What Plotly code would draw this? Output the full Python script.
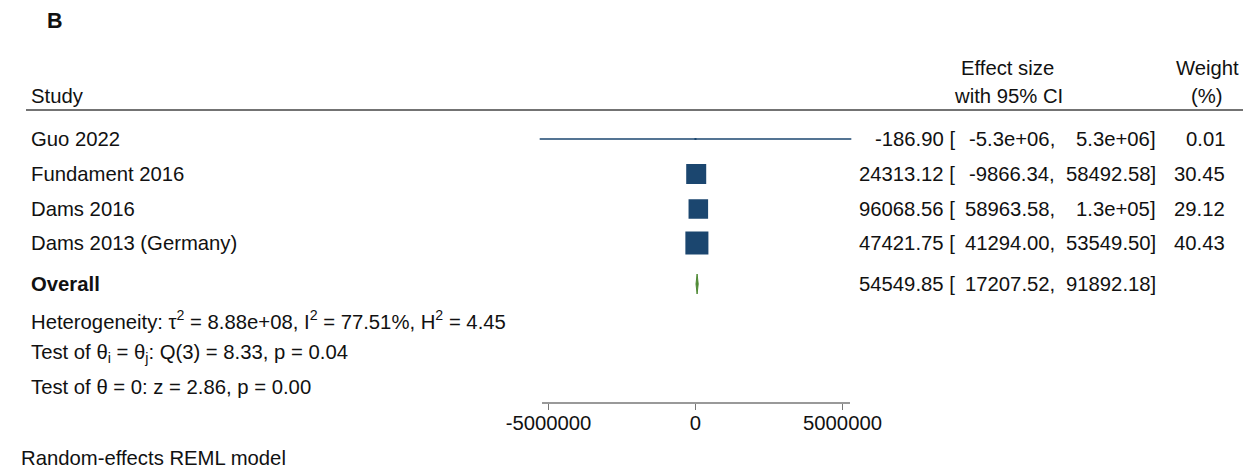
import plotly.graph_objects as go
import math

# ---- data ----
studies = ["Guo 2022", "Fundament 2016", "Dams 2016", "Dams 2013 (Germany)"]
effect = [-186.90, 24313.12, 96068.56, 47421.75]
ci_low = [-5.3e6, -9866.34, 58963.58, 41294.00]
ci_high = [5.3e6, 58492.58, 1.3e5, 53549.50]
weights = [0.01, 30.45, 29.12, 40.43]
overall = {"es": 54549.85, "lo": 17207.52, "hi": 91892.18}
tick_vals = [-5000000, 0, 5000000]
tick_text = ["-5000000", "0", "5000000"]
stats_lines = [
    "Heterogeneity: τ<sup>2</sup> = 8.88e+08, I<sup>2</sup> = 77.51%, H<sup>2</sup> = 4.45",
    "Test of θ<sub>i</sub> = θ<sub>j</sub>: Q(3) = 8.33, p = 0.04",
    "Test of θ = 0: z = 2.86, p = 0.00",
]

# ---- layout constants (screen pixels) ----
W, H = 1251, 470
OFF = 8  # page body margin
FONT = "Liberation Sans, Arial, Helvetica, sans-serif"
FS = 20.3
NAVY = "#1b466f"
GREEN = "#4f8a35"
row_y = [139, 174, 209, 243]
overall_y = 284
stats_y = [320, 353, 387]
axis_y = 403
x0_px = 695.5
px_per_unit = 147.0 / 5e6
xr = [-5.4e6, 5.4e6]
col_es, col_lo, col_hi, col_w = 957, 1057, 1158, 1227


def px(x):
    return (x - OFF) / W


def py(y):
    return (H - (y - OFF)) / H


dom = [px(x0_px + xr[0] * px_per_unit), px(x0_px + xr[1] * px_per_unit)]
ydom = [py(axis_y), 1.0]

NB = "\u00a0"


def num(v):
    return ("%.1e" % v) if abs(v) >= 1e5 else ("%.2f" % v)


fig = go.Figure()

# CI lines
for i in range(len(studies)):
    fig.add_trace(go.Scatter(
        x=[ci_low[i], ci_high[i]], y=[row_y[i], row_y[i]], mode="lines",
        line=dict(color=NAVY, width=1.3), hoverinfo="skip", showlegend=False))

# weight squares
sizes = [max(2.0, 3.624 * math.sqrt(w)) for w in weights]
fig.add_trace(go.Scatter(
    x=effect, y=row_y, mode="markers",
    marker=dict(symbol="square", size=sizes, color=NAVY, opacity=1, line=dict(width=0)),
    hoverinfo="skip", showlegend=False))

# overall diamond
fig.add_trace(go.Scatter(
    x=[overall["lo"], overall["es"], overall["hi"], overall["es"], overall["lo"]],
    y=[overall_y, overall_y - 10, overall_y, overall_y + 10, overall_y],
    mode="lines", fill="toself", fillcolor=GREEN,
    line=dict(color=GREEN, width=1), hoverinfo="skip", showlegend=False))

ann = []


def text(x, y, t, anchor="left", size=FS, bold=False):
    ann.append(dict(x=px(x), y=py(y), xref="paper", yref="paper",
                    text=("<b>%s</b>" % t) if bold else t, showarrow=False,
                    xanchor=anchor, yanchor="middle",
                    font=dict(family=FONT, size=size, color="#111111")))


def ci_cols(y, es, lo, hi):
    text(col_es, y, "%.2f" % es + NB + "[", anchor="right")
    text(col_lo, y, num(lo) + ",", anchor="right")
    text(col_hi, y, num(hi) + "]", anchor="right")


text(45, 21, "B", bold=True, size=21.5)
text(29, 96, "Study")
text(1007, 68, "Effect size", anchor="center")
text(1008, 96, "with 95% CI", anchor="center")
text(1207, 68, "Weight", anchor="center")
text(1207, 96, "(%)", anchor="center")

for i, s in enumerate(studies):
    text(29, row_y[i], s)
    ci_cols(row_y[i], effect[i], ci_low[i], ci_high[i])
    text(col_w, row_y[i], "%.2f" % weights[i], anchor="right")

text(29, overall_y, "Overall", bold=True)
ci_cols(overall_y, overall["es"], overall["lo"], overall["hi"])

for y, s in zip(stats_y, stats_lines):
    text(29, y, s)

text(19, 458, "Random-effects REML model")

shapes = [
    dict(type="line", xref="paper", yref="paper", x0=px(26), x1=px(1246), y0=py(110), y1=py(110),
         line=dict(color="#444444", width=1.5)),
    dict(type="line", xref="paper", yref="paper", x0=px(542), x1=px(850), y0=py(axis_y), y1=py(axis_y),
         line=dict(color="#777777", width=1.4)),
]

fig.update_layout(
    width=W, height=H, margin=dict(l=0, r=0, t=0, b=0, pad=0, autoexpand=False),
    paper_bgcolor="white", plot_bgcolor="white", hovermode=False,
    annotations=ann, shapes=shapes,
    xaxis=dict(domain=dom, range=xr, showgrid=False, zeroline=False, showline=False,
               tickmode="array", tickvals=tick_vals, ticktext=tick_text,
               ticks="outside", ticklen=6, tickwidth=1.4, tickcolor="#777777",
               ticklabelstandoff=-4,
               tickfont=dict(family=FONT, size=FS, color="#111111"), fixedrange=True,
               automargin=False),
    yaxis=dict(domain=ydom, range=[axis_y, OFF], visible=False,
               showgrid=False, zeroline=False, fixedrange=True, automargin=False),
)

fig.write_html("out.html", config={"displayModeBar": False})
